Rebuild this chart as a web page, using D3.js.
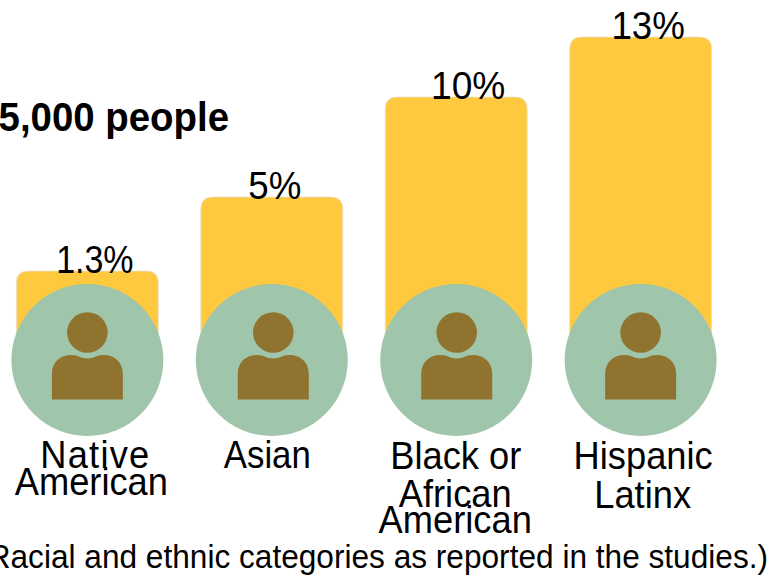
<!DOCTYPE html>
<html>
<head>
<meta charset="utf-8">
<script src="https://cdnjs.cloudflare.com/ajax/libs/d3/7.8.5/d3.min.js"></script>
<style>
html, body { margin: 0; padding: 0; background: #fff; overflow: hidden; }
svg { display: block; }
text { font-family: "Liberation Sans", Arial, sans-serif; fill: #000; }
</style>
</head>
<body>
<svg id="chart" width="784" height="577"></svg>
<script>
const categories = ["Native American", "Asian", "Black or African American", "Hispanic Latinx"];
const percentages = [1.3, 5, 10, 13];
const percentLabels = ["1.3%", "5%", "10%", "13%"];
const categoryLines = [["Native", "American"], ["Asian"], ["Black or", "African", "American"], ["Hispanic", "Latinx"]];
const headline = "5,000 people";
const footnote = "(Racial and ethnic categories as reported in the studies.)";

const svg = d3.select("#chart");

const x = d3.scaleBand().domain(categories).range([-5.5, 733.5]).paddingInner(0.233).paddingOuter(0.12);
const y = d3.scaleLinear().domain([0, 13]).range([297, 37]);

const iconY = 360;
const iconR = 76;
const barW = 142;
const center = d => x(d) + x.bandwidth() / 2;

// Bars run down behind the round icons
svg.selectAll("path.bar").data(categories).join("path")
  .attr("class", "bar")
  .attr("d", (d, i) => {
    const l = center(d) - barW / 2, r = l + barW, t = y(percentages[i]), rad = 12;
    const p = d3.path();
    p.moveTo(l, iconY);
    p.lineTo(l, t + rad);
    p.quadraticCurveTo(l, t, l + rad, t);
    p.lineTo(r - rad, t);
    p.quadraticCurveTo(r, t, r, t + rad);
    p.lineTo(r, iconY);
    p.closePath();
    return p.toString();
  })
  .attr("fill", "#ffc93f")
  .attr("stroke", "#e8e2d0")
  .attr("stroke-width", 0.8);

// Value labels sit off-centre on each bar, overlapping its top edge a little
const valueNudge = [7.5, 3, 12, 7.5];
const valueSqueeze = [0.86, 0.93, 0.94, 0.93];
svg.selectAll("text.value").data(categories).join("text")
  .attr("class", "value")
  .attr("transform", (d, i) => `translate(${center(d) + valueNudge[i]},${y(percentages[i]) + 2}) scale(${valueSqueeze[i]},1)`)
  .attr("text-anchor", "middle")
  .attr("font-size", 39.5)
  .text((d, i) => percentLabels[i]);

// Person icons
const personNudge = [0, 1.5, 0.5, 0];
const icons = svg.selectAll("g.icon").data(categories).join("g")
  .attr("class", "icon")
  .attr("transform", d => `translate(${center(d)},${iconY})`);

icons.append("circle").attr("r", iconR).attr("fill", "#9fc5aa");

const people = icons.append("g").attr("transform", (d, i) => `translate(${personNudge[i]},0)`);
people.append("circle").attr("cy", -27.5).attr("r", 20.3).attr("fill", "#8f732f");
people.append("path")
  .attr("fill", "#8f732f")
  .attr("d", "M-35.5,39.5 L-35.5,14 C-35.5,2 -27,-5 -16,-5 C-9,-5 -7,-1.5 0,-1.5 C7,-1.5 9,-5 16,-5 C27,-5 35.5,2 35.5,14 L35.5,39.5 Z");

// Category names, with their tight line spacing
const lineBaselines = [[468, 495], [468], [469, 507, 533], [469, 508]];
const lineNudges = [[8, 4], [-4.5], [-0.5, -1, -1], [2.5, 2]];
const flatLines = categoryLines.flatMap((lines, i) => lines.map((line, k) => ({ line, i, k })));

svg.selectAll("text.cat").data(flatLines).join("text")
  .attr("class", "cat")
  .attr("text-anchor", "middle")
  .attr("font-size", 38)
  .attr("letter-spacing", d => d.i === 0 && d.k === 0 ? 1.3 : 0)
  .attr("transform", d => `translate(${center(categories[d.i]) + lineNudges[d.i][d.k]},${lineBaselines[d.i][d.k]}) scale(${d.i === 1 ? 0.915 : 0.955},1)`)
  .text(d => d.line);

svg.append("text")
  .attr("transform", "translate(229,131) scale(0.96,1)")
  .attr("text-anchor", "end")
  .attr("font-size", 40)
  .attr("font-weight", "bold")
  .text(headline);

svg.append("text")
  .attr("transform", "translate(768,567.5) scale(0.93,1)")
  .attr("text-anchor", "end")
  .attr("font-size", 34)
  .text(footnote);
</script>
</body>
</html>
